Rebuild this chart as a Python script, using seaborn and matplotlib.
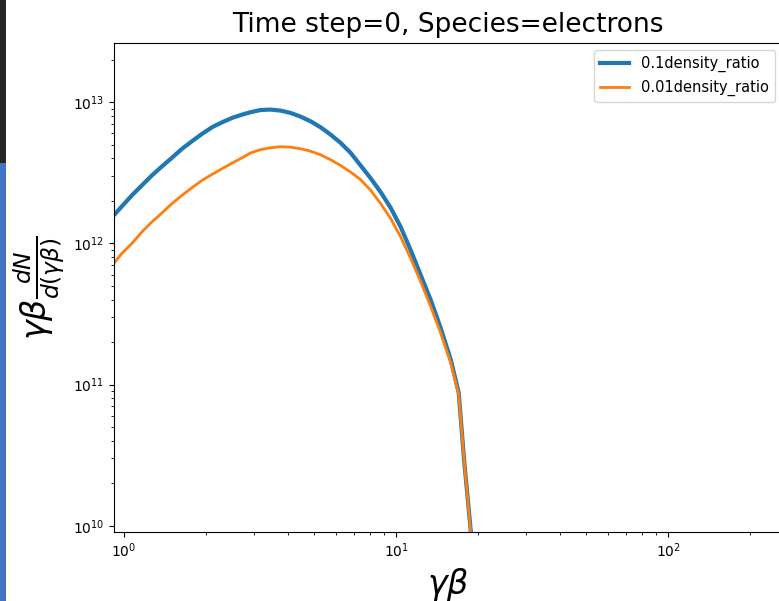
import numpy as np
import pandas as pd
import matplotlib
matplotlib.use("Agg")
import matplotlib.pyplot as plt
import seaborn as sns
from matplotlib.patches import Rectangle

# ---- data ----
gamma_beta = [0.9187, 0.9832, 1.0702, 1.1650, 1.2677, 1.3800, 1.5021, 1.6355,
              1.7801, 1.9379, 2.1094, 2.2961, 2.4995, 2.7209, 2.9112, 3.1696,
              3.4496, 3.7548, 4.0874, 4.4491, 4.8430, 5.2720, 5.7381, 6.2458,
              6.7988, 7.4003, 8.0561, 8.7689, 9.5446, 10.389, 11.310, 12.312,
              13.401, 14.586, 15.880, 16.99, 17.77, 19.46]

spec_01 = [1.584e12, 1.832e12, 2.191e12, 2.578e12, 3.032e12, 3.509e12, 4.042e12,
           4.677e12, 5.292e12, 5.967e12, 6.644e12, 7.203e12, 7.737e12, 8.161e12,
           8.47e12, 8.78e12, 8.852e12, 8.711e12, 8.391e12, 7.901e12, 7.322e12,
           6.644e12, 5.900e12, 5.156e12, 4.384e12, 3.567e12, 2.897e12, 2.312e12,
           1.790e12, 1.310e12, 8.97e11, 5.976e11, 3.983e11, 2.516e11, 1.503e11,
           8.756e10, 2.964e10, 4.6e9]

spec_001 = [7.228e11, 8.50e11, 1.0e12, 1.207e12, 1.420e12, 1.644e12, 1.915e12,
            2.191e12, 2.483e12, 2.796e12, 3.081e12, 3.381e12, 3.703e12, 4.042e12,
            4.353e12, 4.600e12, 4.753e12, 4.831e12, 4.799e12, 4.677e12, 4.498e12,
            4.242e12, 3.912e12, 3.567e12, 3.198e12, 2.831e12, 2.380e12, 1.915e12,
            1.501e12, 1.113e12, 7.84e11, 5.36e11, 3.572e11, 2.319e11, 1.424e11,
            8.52e10, 2.964e10, 4.4e9]

labels = ["0.1density_ratio", "0.01density_ratio"]
title = "Time step=0, Species=electrons"

df_01 = pd.DataFrame({"x": gamma_beta, "y": spec_01})
df_001 = pd.DataFrame({"x": gamma_beta, "y": spec_001})

plt.rcParams.update(plt.rcParamsDefault)
fig = plt.figure(figsize=(7.79, 6.01), dpi=100)
ax = fig.add_axes([114 / 779, 69 / 601, (782 - 114) / 779, (532 - 43) / 601])

sns.lineplot(data=df_01, x="x", y="y", ax=ax, color="#1f77b4", linewidth=3,
             label=labels[0], estimator=None, sort=False)
sns.lineplot(data=df_001, x="x", y="y", ax=ax, color="#ff7f0e", linewidth=2,
             label=labels[1], estimator=None, sort=False)

ax.set_xscale("log")
ax.set_yscale("log")
ax.set_xlim(0.919, 262)
ax.set_ylim(9.05e9, 2.62e13)

ax.set_title(title, fontsize=19, pad=8)
ax.set_xlabel(r"$\gamma\beta$", fontsize=24)
ax.set_ylabel(r"$\gamma\beta\frac{dN}{d(\gamma\beta)}$", fontsize=24)
ax.legend(loc="upper right", fontsize=10.5)

# left-edge strip present in the reference screenshot
fig.patches.append(Rectangle((0, 0), 6 / 779, 438 / 601, transform=fig.transFigure,
                             facecolor="#4472c4", edgecolor="none", zorder=10))
fig.patches.append(Rectangle((0, 438 / 601), 6 / 779, 163 / 601, transform=fig.transFigure,
                             facecolor="#262626", edgecolor="none", zorder=10))

fig.savefig("out.png", dpi=100)
